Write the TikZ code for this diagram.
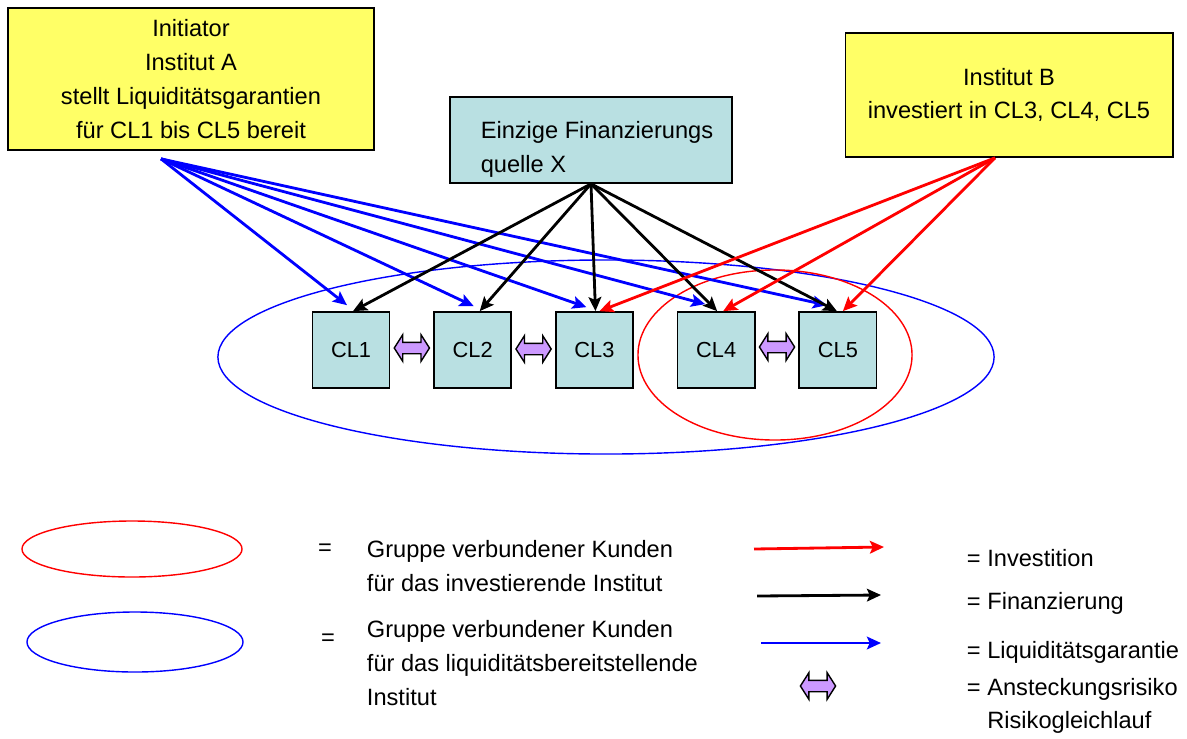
\documentclass[tikz,border=0pt]{standalone}
\usepackage{fontspec}
\setmainfont{Liberation Sans}
\usepackage{xcolor}
\usepackage{tikz}
\usetikzlibrary{arrows.meta,calc}
\usetikzlibrary{positioning,shapes,arrows}

\definecolor{boxyellow}{RGB}{255,255,102}
\definecolor{clblue}{RGB}{185,224,226}
\definecolor{risklila}{RGB}{204,153,255}

\tikzset{
  txt/.style={font=\fontsize{16.8}{24}\selectfont},
  instbox/.style={txt, draw, line width=1.2pt, fill=boxyellow, align=center},
  clbox/.style={draw, line width=1.2pt, fill=clblue, font=\fontsize{15.5}{18}\selectfont,
    minimum width=1.93cm, minimum height=1.9cm, inner sep=0pt},
  risk/.style={double arrow, draw, line width=1pt, fill=risklila, inner sep=0pt,
    minimum height=0.88cm, double arrow head extend=0.19cm,
    double arrow tip angle=115},
  tip/.style={-{Stealth[length=10pt,width=9pt,inset=2pt]}, line width=2pt},
  invest/.style={tip, red},
  finanz/.style={tip, black},
  liq/.style={tip, blue}
}
\newcommand{\riskbody}{\rule{0pt}{0.25cm}}

\begin{document}
\begin{tikzpicture}[x=0.025cm, y=-0.025cm]
    \useasboundingbox (0,0) rectangle (1187,738);

    % Groups of connected clients
    \node[ellipse, draw=blue, line width=1pt, minimum width=19.4cm, minimum height=4.85cm] (grpliq) at (606,357) {};
    \node[ellipse, draw=red, line width=1pt, minimum width=6.85cm, minimum height=4.25cm] (grpinv) at (775,355) {};

    % Institutes and funding source
    \node[instbox, minimum width=9.15cm, minimum height=3.55cm] (instA) at (191,79)
        {Initiator\\Institut A\\stellt Liquiditätsgarantien\\für CL1 bis CL5 bereit};
    \node[instbox, minimum width=8.18cm, minimum height=3.1cm] (instB) at (1009,95)
        {Institut B\\investiert in CL3, CL4, CL5};
    \node[txt, draw, line width=1.2pt, fill=clblue, align=left,
        minimum width=7.05cm, minimum height=2.15cm] (srcX) at (591,140)
        {\hspace*{0.3cm}\rule{0pt}{26pt}Einzige Finanzierungs\\\hspace*{0.3cm}quelle X};

    % Clients
    \node[clbox] (cl1) at (351,350) {CL1};
    \node[clbox, right=1.07cm of cl1] (cl2) {CL2};
    \node[clbox, right=1.07cm of cl2] (cl3) {CL3};
    \node[clbox, right=1.07cm of cl3] (cl4) {CL4};
    \node[clbox, right=1.07cm of cl4] (cl5) {CL5};

    \node[risk] (r12) at ($(cl1.east)!0.5!(cl2.west)+(0,-2)$) {\riskbody};
    \node[risk] (r23) at ($(cl2.east)!0.5!(cl3.west)+(0,-1)$) {\riskbody};
    \node[risk] (r45) at ($(cl4.east)!0.5!(cl5.west)+(0,-3)$) {\riskbody};

    % Arrows
    \coordinate (aout) at ($(instA.south)+(-30,8)$);
    \coordinate (bout) at ($(instB.south)+(-14,0)$);
    \foreach \i/\dx/\dy in {1/-4/-6, 2/1/-5, 3/-8/-4, 4/-11/-7, 5/-11/-6}
        \draw[liq] (aout) -- ($(cl\i.north)+(\dx,\dy)$);
    \foreach \i/\dx in {1/2, 2/7, 3/1, 4/1, 5/-1}
        \draw[finanz] (srcX.south) -- ($(cl\i.north)+(\dx,0)$);
    \foreach \i/\dx in {3/5, 4/7, 5/5}
        \draw[invest] (bout) -- ($(cl\i.north)+(\dx,0)$);

    % Legend
    \node[ellipse, draw=red, line width=1pt, minimum width=5.5cm, minimum height=1.4cm] (leginv) at (132,549) {};
    \node[ellipse, draw=blue, line width=1pt, minimum width=5.4cm, minimum height=1.5cm] (legliq) at (135,642) {};
    \node[txt] (eqinv) at (325,550) {=};
    \node[txt] (eqliq) at (328,640) {=};
    \node[txt, anchor=west, align=left] (txtinv) at (362,566)
        {Gruppe verbundener Kunden\\für das investierende Institut};
    \node[txt, anchor=west, align=left] (txtliq) at (362,663)
        {Gruppe verbundener Kunden\\für das liquiditätsbereitstellende\\Institut};

    \coordinate (li1) at (754,549);
    \coordinate (li2) at (884,547);
    \coordinate (lf1) at (757,596);
    \coordinate (lf2) at (881,595);
    \coordinate (ll1) at (761,643);
    \coordinate (ll2) at (881,643);
    \draw[invest] (li1) -- (li2);
    \draw[finanz] (lf1) -- (lf2);
    \draw[liq] (ll1) -- (ll2);
    \node[risk] (legrisk) at (818,686) {\riskbody};

    \node[txt, anchor=west] (lblinv) at (962,558) {= Investition};
    \node[txt, anchor=west] (lblfin) at (962,603) {= Finanzierung};
    \node[txt, anchor=west] (lblliq) at (962,652) {= Liquiditätsgarantie};
    \node[txt, anchor=west, align=left] (lblrisk) at (962,706)
        {= Ansteckungsrisiko\\\hphantom{= }Risikogleichlauf};
\end{tikzpicture}
\end{document}
